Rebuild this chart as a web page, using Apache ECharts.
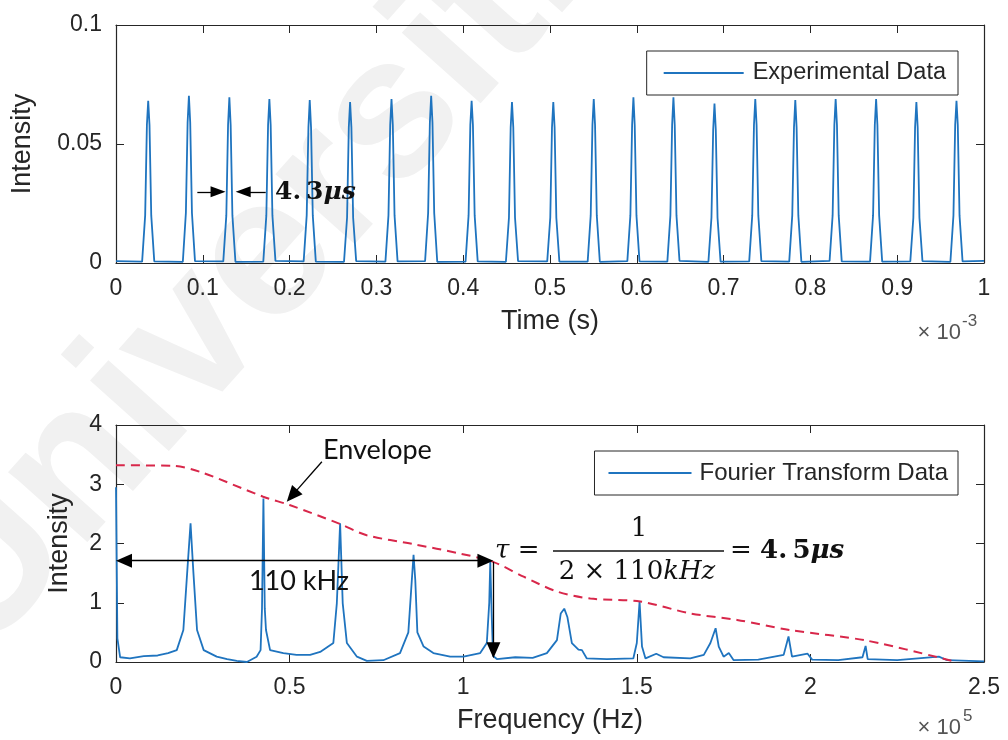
<!DOCTYPE html>
<html>
<head>
<meta charset="utf-8">
<title>Pulse train and Fourier transform</title>
<script src="https://cdn.jsdelivr.net/npm/echarts@6/dist/echarts.min.js"></script>
<style>
  html, body { margin: 0; padding: 0; background: #fff; }
  #chart { width: 1008px; height: 740px; }
</style>
</head>
<body>
<div id="chart"></div>
<script type="text/javascript">
// top plot: time in units of 1e-3 s
var timeMs = [
  0,
  0.0301, 0.0336, 0.0356, 0.0371, 0.0386, 0.0406, 0.0441,
  0.0770, 0.0805, 0.0825, 0.0840, 0.0855, 0.0875, 0.0910,
  0.1236, 0.1271, 0.1291, 0.1306, 0.1321, 0.1341, 0.1376,
  0.1697, 0.1732, 0.1752, 0.1767, 0.1782, 0.1802, 0.1837,
  0.2162, 0.2197, 0.2217, 0.2232, 0.2247, 0.2267, 0.2302,
  0.2627, 0.2662, 0.2682, 0.2697, 0.2712, 0.2732, 0.2767,
  0.3104, 0.3139, 0.3159, 0.3174, 0.3189, 0.3209, 0.3244,
  0.3561, 0.3596, 0.3616, 0.3631, 0.3646, 0.3666, 0.3701,
  0.4027, 0.4062, 0.4082, 0.4097, 0.4112, 0.4132, 0.4167,
  0.4492, 0.4527, 0.4547, 0.4562, 0.4577, 0.4597, 0.4632,
  0.4968, 0.5003, 0.5023, 0.5038, 0.5053, 0.5073, 0.5108,
  0.5434, 0.5469, 0.5489, 0.5504, 0.5519, 0.5539, 0.5574,
  0.5891, 0.5926, 0.5946, 0.5961, 0.5976, 0.5996, 0.6031,
  0.6352, 0.6387, 0.6407, 0.6422, 0.6437, 0.6457, 0.6492,
  0.6825, 0.6860, 0.6880, 0.6895, 0.6910, 0.6930, 0.6965,
  0.7295, 0.7330, 0.7350, 0.7365, 0.7380, 0.7400, 0.7435,
  0.7756, 0.7791, 0.7811, 0.7826, 0.7841, 0.7861, 0.7896,
  0.8221, 0.8256, 0.8276, 0.8291, 0.8306, 0.8326, 0.8361,
  0.8687, 0.8722, 0.8742, 0.8757, 0.8772, 0.8792, 0.8827,
  0.9151, 0.9186, 0.9206, 0.9221, 0.9236, 0.9256, 0.9291,
  0.9613, 0.9648, 0.9668, 0.9683, 0.9698, 0.9718, 0.9753,
  1
];
var expIntensity = [
  0.0008,
  0.0006, 0.020, 0.058, 0.0682, 0.058, 0.020, 0.0007,
  0.0005, 0.021, 0.059, 0.0703, 0.059, 0.021, 0.0008,
  0.0007, 0.020, 0.058, 0.0696, 0.058, 0.020, 0.0005,
  0.0006, 0.020, 0.058, 0.0689, 0.058, 0.020, 0.0009,
  0.0007, 0.020, 0.057, 0.0685, 0.057, 0.020, 0.0006,
  0.0005, 0.019, 0.057, 0.0676, 0.057, 0.019, 0.0008,
  0.0006, 0.020, 0.058, 0.0689, 0.058, 0.020, 0.0007,
  0.0008, 0.021, 0.059, 0.0703, 0.059, 0.021, 0.0005,
  0.0006, 0.020, 0.058, 0.0682, 0.058, 0.020, 0.0007,
  0.0005, 0.019, 0.057, 0.0676, 0.057, 0.019, 0.0008,
  0.0007, 0.019, 0.057, 0.0676, 0.057, 0.019, 0.0006,
  0.0006, 0.020, 0.058, 0.0689, 0.058, 0.020, 0.0005,
  0.0008, 0.020, 0.058, 0.0696, 0.058, 0.020, 0.0007,
  0.0006, 0.020, 0.058, 0.0696, 0.058, 0.020, 0.0009,
  0.0005, 0.019, 0.056, 0.0670, 0.056, 0.019, 0.0006,
  0.0007, 0.020, 0.058, 0.0689, 0.058, 0.020, 0.0008,
  0.0006, 0.020, 0.057, 0.0685, 0.057, 0.020, 0.0005,
  0.0009, 0.020, 0.058, 0.0689, 0.058, 0.020, 0.0007,
  0.0006, 0.020, 0.058, 0.0689, 0.058, 0.020, 0.0006,
  0.0007, 0.019, 0.057, 0.0676, 0.057, 0.019, 0.0008,
  0.0005, 0.020, 0.058, 0.0682, 0.058, 0.020, 0.0007,
  0.0009
];

// bottom plot: frequency in units of 1e5 Hz
var freqE5 = [
  0, 0.004, 0.012, 0.04, 0.08, 0.12, 0.15, 0.175, 0.194, 0.2055, 0.2147, 0.2225, 0.2334, 0.2526,
  0.29, 0.32, 0.348, 0.377, 0.405, 0.4164, 0.4205, 0.4246, 0.4285, 0.432, 0.4438, 0.482, 0.52,
  0.559, 0.588, 0.626, 0.636, 0.6455, 0.653, 0.665, 0.694, 0.7224, 0.77, 0.818, 0.842, 0.852,
  0.857, 0.862, 0.868, 0.886, 0.914, 0.9625, 1.001, 1.049, 1.068, 1.075, 1.078, 1.082, 1.086,
  1.097, 1.15, 1.2, 1.241, 1.27, 1.281, 1.291, 1.3, 1.313, 1.332, 1.342, 1.356, 1.414, 1.49,
  1.5, 1.508, 1.515, 1.525, 1.556, 1.577, 1.654, 1.693, 1.712, 1.727, 1.736, 1.75, 1.765,
  1.779, 1.85, 1.923, 1.937, 1.947, 1.992, 2.005, 2.08, 2.15, 2.159, 2.165, 2.25, 2.37,
  2.394, 2.5
];
var fftIntensity = [
  2.95, 0.4, 0.08, 0.06, 0.1, 0.11, 0.15, 0.2, 0.54, 1.55, 2.34, 1.55, 0.54, 0.2,
  0.09, 0.05, 0.02, 0.0, 0.09, 0.2, 0.9, 2.76, 0.9, 0.54, 0.2, 0.15, 0.12,
  0.12, 0.17, 0.32, 0.99, 2.34, 0.99, 0.32, 0.09, 0.02, 0.03, 0.15, 0.5, 1.38,
  1.81, 1.38, 0.5, 0.26, 0.15, 0.09, 0.09, 0.15, 0.32, 1.0, 1.69, 0.8, 0.1,
  0.05, 0.08, 0.07, 0.15, 0.37, 0.82, 0.9, 0.76, 0.32, 0.21, 0.2, 0.06, 0.05, 0.06,
  0.32, 1.02, 0.26, 0.06, 0.14, 0.08, 0.06, 0.12, 0.32, 0.57, 0.26, 0.09, 0.15,
  0.03, 0.04, 0.12, 0.43, 0.09, 0.14, 0.04, 0.03, 0.08, 0.27, 0.05, 0.03, 0.09,
  0.03, 0.01
];
var envFreq = [0, 0.165, 0.242, 0.424, 0.5, 0.645, 0.722, 0.856, 0.991, 1.086, 1.174, 1.27, 1.366, 1.51, 1.654, 1.789, 1.94, 2.163, 2.42];
var envIntensity = [3.32, 3.31, 3.21, 2.79, 2.65, 2.33, 2.14, 1.99, 1.83, 1.69, 1.44, 1.19, 1.07, 1.02, 0.82, 0.71, 0.54, 0.36, 0.0];

var topTicks = { min: 0, max: 1, interval: 0.1 };
var topValTicks = { min: 0, max: 0.1, interval: 0.05 };
var botTicks = { min: 0, max: 2.5, interval: 0.5 };
var botValTicks = { min: 0, max: 4, interval: 1 };

function pairs(xs, ys) {
  return xs.map(function (x, i) { return [x, ys[i]]; });
}

var AX = '#262626';
var SANS = '"Liberation Sans", Arial, sans-serif';
var SERIF = '"DejaVu Serif", serif';
var BLUE = '#1f74bf';

function mainAxis(kind, grid, ticks, name, gap) {
  return {
    type: 'value', gridIndex: grid, position: kind,
    min: ticks.min, max: ticks.max, interval: ticks.interval,
    name: name, nameLocation: 'middle', nameGap: gap,
    nameTextStyle: { fontFamily: SANS, fontSize: 27, color: AX },
    axisLine: { show: true, onZero: false, lineStyle: { color: AX, width: 1.2 } },
    axisTick: { show: true, inside: true, length: 8, lineStyle: { color: AX } },
    axisLabel: { show: true, margin: 14, fontFamily: SANS, fontSize: 23, color: AX },
    splitLine: { show: false }
  };
}
function boxAxis(kind, grid, ticks) {
  return {
    type: 'value', gridIndex: grid, position: kind,
    min: ticks.min, max: ticks.max, interval: ticks.interval,
    axisLine: { show: true, onZero: false, lineStyle: { color: AX, width: 1.2 } },
    axisTick: { show: true, inside: true, length: 8, lineStyle: { color: AX } },
    axisLabel: { show: false },
    splitLine: { show: false }
  };
}

var myChart = echarts.init(document.getElementById('chart'));
var option = {
  backgroundColor: '#fff',
  animation: false,
  grid: [
    { left: 116, top: 25, width: 868, height: 238 },
    { left: 116, top: 425, width: 868, height: 237 }
  ],
  xAxis: [
    mainAxis('bottom', 0, topTicks, 'Time (s)', 45),
    boxAxis('top', 0, topTicks),
    mainAxis('bottom', 1, botTicks, 'Frequency (Hz)', 45),
    boxAxis('top', 1, botTicks)
  ],
  yAxis: [
    mainAxis('left', 0, topValTicks, 'Intensity', 80),
    boxAxis('right', 0, topValTicks),
    mainAxis('left', 1, botValTicks, 'Intensity', 43),
    boxAxis('right', 1, botValTicks)
  ],
  legend: [
    {
      data: ['Experimental Data'], right: 50, top: 51,
      borderColor: AX, borderWidth: 1, padding: [10, 12, 10, 17],
      icon: 'rect', itemWidth: 80, itemHeight: 2,
      textStyle: { fontFamily: SANS, fontSize: 23.5, color: AX, padding: [0, 0, 0, 4] }
    },
    {
      data: ['Fourier Transform Data'], right: 50, top: 451,
      borderColor: AX, borderWidth: 1, padding: [10, 10, 10, 14],
      icon: 'rect', itemWidth: 83, itemHeight: 2,
      textStyle: { fontFamily: SANS, fontSize: 24, color: AX, padding: [0, 0, 0, 3] }
    }
  ],
  graphic: [
    // faint watermark
    {
      type: 'text', x: 15, y: 690, rotation: 0.84, z: 0, silent: true,
      style: { text: 'Universiti', font: 'bold 200px "Liberation Sans"', fill: '#f1f1f1', textVerticalAlign: 'bottom' }
    },
    // exponents
    { type: 'text', x: 961, y: 333, z: 10, style: { text: '\u00d7 10', font: '22px "Liberation Sans"', fill: '#555', textAlign: 'right', textVerticalAlign: 'middle' } },
    { type: 'text', x: 962, y: 321, z: 10, style: { text: '-3', font: '17px "Liberation Sans"', fill: '#555', textAlign: 'left', textVerticalAlign: 'middle' } },
    { type: 'text', x: 961, y: 728, z: 10, style: { text: '\u00d7 10', font: '22px "Liberation Sans"', fill: '#555', textAlign: 'right', textVerticalAlign: 'middle' } },
    { type: 'text', x: 963, y: 716, z: 10, style: { text: '5', font: '17px "Liberation Sans"', fill: '#555', textAlign: 'left', textVerticalAlign: 'middle' } },
    // top annotation
    {
      type: 'text', x: 275, y: 192, z: 10,
      style: {
        text: '{b|4.\u20093}{bi|\u03bcs}', textVerticalAlign: 'middle', textAlign: 'left',
        rich: {
          b: { fontFamily: SERIF, fontWeight: 'bold', fontSize: 25, fill: '#111' },
          bi: { fontFamily: SERIF, fontWeight: 'bold', fontStyle: 'italic', fontSize: 25, fill: '#111' }
        }
      }
    },
    // bottom annotations
    { type: 'text', x: 323, y: 450, z: 10, style: { text: 'Envelope', font: '27px Lato', fill: '#111', textVerticalAlign: 'middle' } },
    { type: 'text', x: 299, y: 581, z: 10, style: { text: '110 kHz', font: '27px Lato', fill: '#111', textAlign: 'center', textVerticalAlign: 'middle' } },
    {
      type: 'text', x: 495, y: 551, z: 10,
      style: {
        text: '{i|\u03c4}{n| =}', textVerticalAlign: 'middle',
        rich: {
          i: { fontFamily: SERIF, fontStyle: 'italic', fontSize: 26, fill: '#111' },
          n: { fontFamily: SERIF, fontSize: 26, fill: '#111' }
        }
      }
    },
    { type: 'text', x: 639, y: 529, z: 10, style: { text: '1', font: '26px "DejaVu Serif"', fill: '#111', textAlign: 'center', textVerticalAlign: 'middle' } },
    { type: 'line', z: 10, shape: { x1: 553, y1: 551, x2: 724, y2: 551 }, style: { stroke: '#111', lineWidth: 1.5 } },
    {
      type: 'text', x: 637, y: 572, z: 10,
      style: {
        text: '{n|2 \u00d7 110}{i|kHz}', textAlign: 'center', textVerticalAlign: 'middle',
        rich: {
          n: { fontFamily: SERIF, fontSize: 26, fill: '#111' },
          i: { fontFamily: SERIF, fontStyle: 'italic', fontSize: 26, fill: '#111' }
        }
      }
    },
    {
      type: 'text', x: 730, y: 551, z: 10,
      style: {
        text: '{n|= }{b|4.\u20095}{bi|\u03bcs}', textVerticalAlign: 'middle',
        rich: {
          n: { fontFamily: SERIF, fontSize: 26, fill: '#111' },
          b: { fontFamily: SERIF, fontWeight: 'bold', fontSize: 26, fill: '#111' },
          bi: { fontFamily: SERIF, fontWeight: 'bold', fontStyle: 'italic', fontSize: 26, fill: '#111' }
        }
      }
    }
  ],
  series: [
    {
      name: 'Experimental Data', type: 'line', xAxisIndex: 0, yAxisIndex: 0,
      data: pairs(timeMs, expIntensity),
      symbol: 'none', showSymbol: false,
      lineStyle: { color: BLUE, width: 1.8 },
      itemStyle: { color: BLUE },
      markLine: {
        silent: true, symbol: ['none', 'triangle'], symbolSize: [11, 15],
        label: { show: false },
        lineStyle: { color: '#000', width: 1.3, type: 'solid' },
        data: [
          [{ coord: [0.0937, 0.0299] }, { coord: [0.1176, 0.0299] }],
          [{ coord: [0.1725, 0.0299] }, { coord: [0.1465, 0.0299] }]
        ]
      }
    },
    {
      name: 'Fourier Transform Data', type: 'line', xAxisIndex: 2, yAxisIndex: 2,
      data: pairs(freqE5, fftIntensity),
      symbol: 'none', showSymbol: false,
      lineStyle: { color: BLUE, width: 1.8 },
      itemStyle: { color: BLUE }
    },
    {
      name: 'Envelope', type: 'line', xAxisIndex: 2, yAxisIndex: 2,
      data: pairs(envFreq, envIntensity),
      symbol: 'none', showSymbol: false, smooth: 0.3,
      lineStyle: { color: '#d8274a', width: 2, type: [9, 6] },
      itemStyle: { color: '#d8274a' },
      markLine: {
        silent: true, symbol: ['none', 'triangle'], symbolSize: [14, 16],
        label: { show: false },
        lineStyle: { color: '#000', width: 1.3, type: 'solid' },
        data: [
          [{ coord: [0.593, 3.38] }, { coord: [0.507, 2.807] }],
          [{ coord: [0.023, 1.71], symbol: 'triangle' }, { coord: [1.064, 1.71] }],
          [{ coord: [1.087, 1.69] }, { coord: [1.087, 0.2] }]
        ]
      }
    }
  ]
};
myChart.setOption(option);
</script>
</body>
</html>
